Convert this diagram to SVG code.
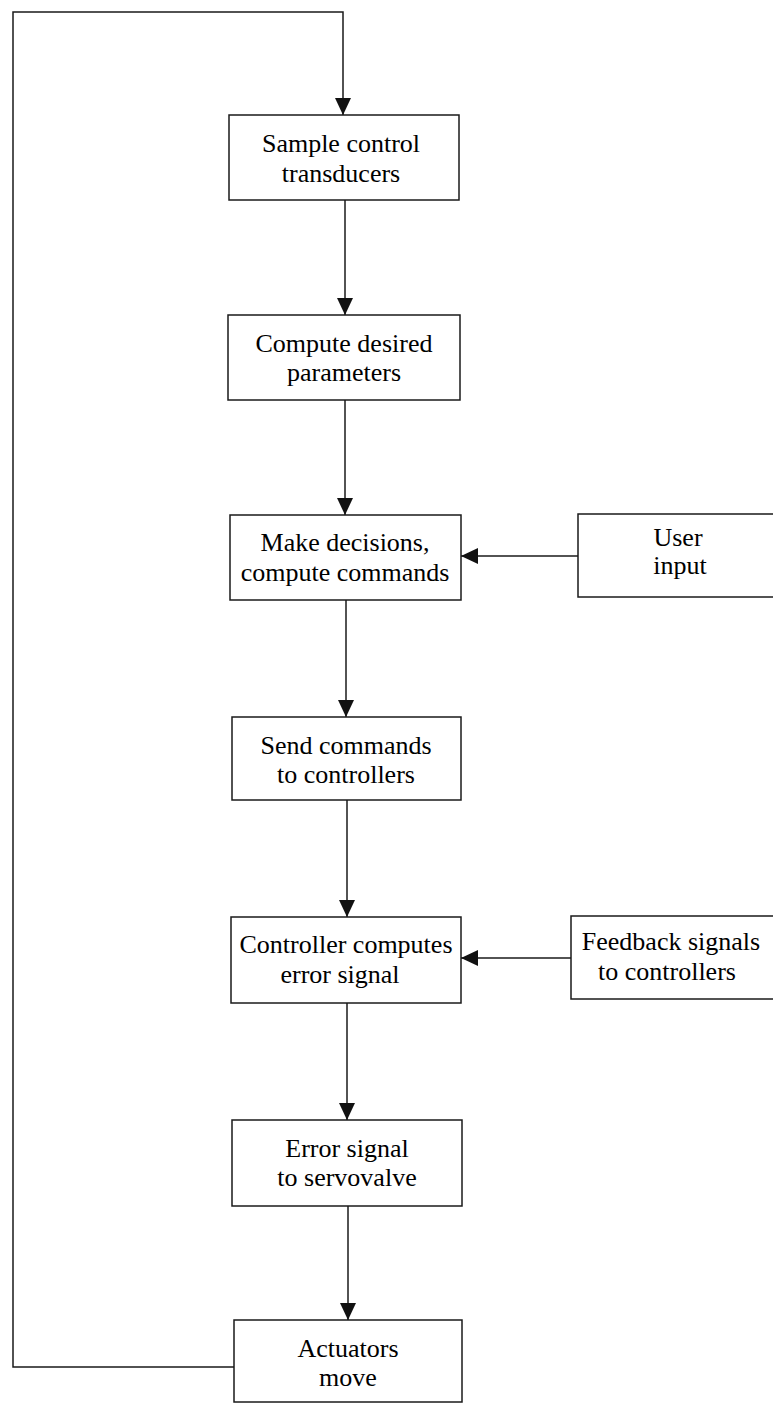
<svg xmlns="http://www.w3.org/2000/svg" width="773" height="1404" viewBox="0 0 773 1404">
  <style>
    .box { fill: #ffffff; stroke: #1a1a1a; stroke-width: 1.5; }
    .lbl { font-family: "Liberation Serif", "Times New Roman", "DejaVu Serif", serif; font-size: 26px; fill: #000000; text-anchor: middle; }
    .wire { fill: none; stroke: #1a1a1a; stroke-width: 1.5; }
  </style>
  <defs>
    <marker id="head" markerUnits="userSpaceOnUse" markerWidth="18" markerHeight="16" refX="17" refY="8" orient="auto">
      <path d="M0,0 L17,8 L0,16 z" fill="#111111"/>
    </marker>
  </defs>
  <rect width="773" height="1404" fill="#ffffff"/>

  <!-- connectors -->
  <g id="connectors">
    <path class="wire" d="M234,1367 H13 V12 H343 V115" marker-end="url(#head)"/>
    <path class="wire" d="M345,200 V315" marker-end="url(#head)"/>
    <path class="wire" d="M345,400 V515" marker-end="url(#head)"/>
    <path class="wire" d="M346,600 V717" marker-end="url(#head)"/>
    <path class="wire" d="M347,800 V917" marker-end="url(#head)"/>
    <path class="wire" d="M347,1003 V1120" marker-end="url(#head)"/>
    <path class="wire" d="M348,1206 V1320" marker-end="url(#head)"/>
    <path class="wire" d="M578,556 H461" marker-end="url(#head)"/>
    <path class="wire" d="M571,958 H461" marker-end="url(#head)"/>
  </g>

  <g id="sample">
    <rect class="box" x="229" y="115" width="230" height="85"/>
    <text class="lbl" x="341" y="152">Sample control</text>
    <text class="lbl" x="341" y="182">transducers</text>
  </g>
  <g id="compute-params">
    <rect class="box" x="228" y="315" width="232" height="85"/>
    <text class="lbl" x="344" y="352">Compute desired</text>
    <text class="lbl" x="344" y="381">parameters</text>
  </g>
  <g id="decide">
    <rect class="box" x="230" y="515" width="231" height="85"/>
    <text class="lbl" x="345" y="551">Make decisions,</text>
    <text class="lbl" x="345" y="581">compute commands</text>
  </g>
  <g id="user-input">
    <rect class="box" x="578" y="514" width="205" height="83"/>
    <text class="lbl" x="678" y="546">User</text>
    <text class="lbl" x="680" y="574">input</text>
  </g>
  <g id="send">
    <rect class="box" x="232" y="717" width="229" height="83"/>
    <text class="lbl" x="346" y="754">Send commands</text>
    <text class="lbl" x="346" y="783">to controllers</text>
  </g>
  <g id="controller">
    <rect class="box" x="231" y="917" width="230" height="86"/>
    <text class="lbl" x="346" y="953">Controller computes</text>
    <text class="lbl" x="340" y="983">error signal</text>
  </g>
  <g id="feedback">
    <rect class="box" x="571" y="916" width="212" height="83"/>
    <text class="lbl" x="671" y="950">Feedback signals</text>
    <text class="lbl" x="667" y="980">to controllers</text>
  </g>
  <g id="servovalve">
    <rect class="box" x="232" y="1120" width="230" height="86"/>
    <text class="lbl" x="347" y="1157">Error signal</text>
    <text class="lbl" x="347" y="1186">to servovalve</text>
  </g>
  <g id="actuators">
    <rect class="box" x="234" y="1320" width="228" height="82"/>
    <text class="lbl" x="348" y="1357">Actuators</text>
    <text class="lbl" x="348" y="1386">move</text>
  </g>
</svg>
